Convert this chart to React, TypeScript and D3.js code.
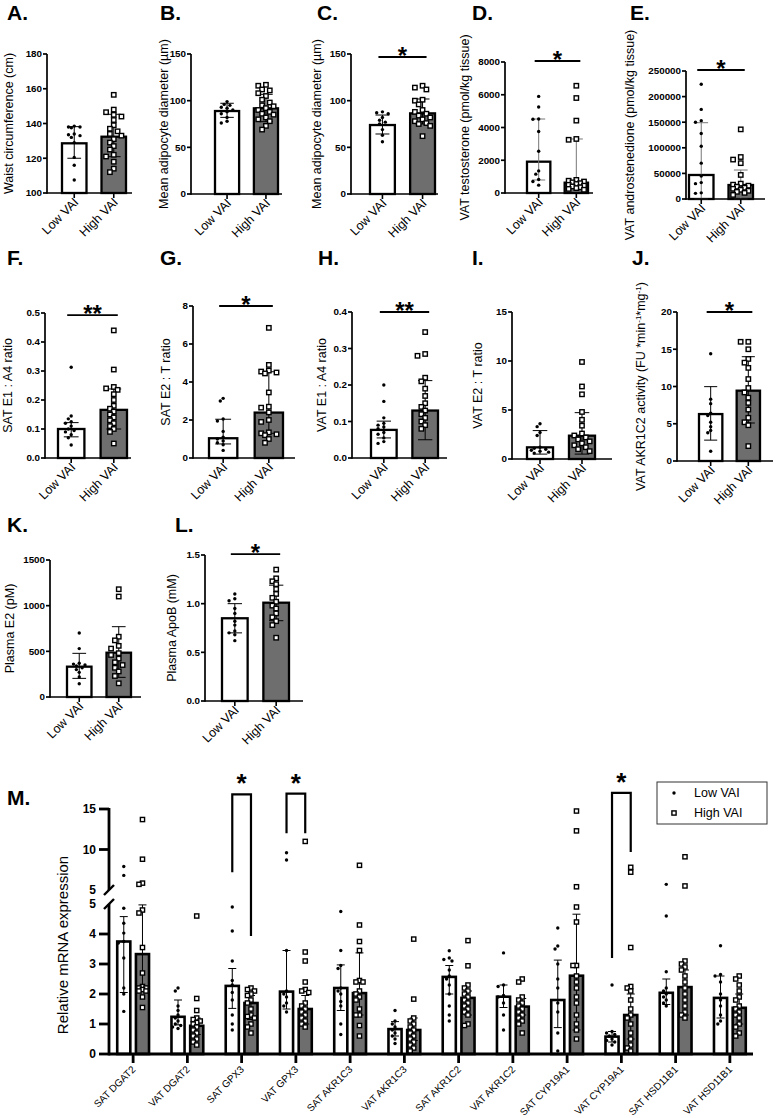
import React from 'react';
import * as d3 from 'd3';

const FONT = '"Liberation Sans", Arial, sans-serif';
const DARK = '#6e6e6e';
const GROUPS = ['Low VAI', 'High VAI'];

// A. waist circumference (cm)
const waistLow = [138.5, 138, 138, 137.5, 134, 133.5, 133, 132, 129, 120.5, 116, 107.5];
const waistHigh = [156.5, 148, 146.5, 145, 144, 142, 139, 137, 135.5, 134, 133, 131, 129, 127, 125, 122, 121, 118, 114, 112];
const waistMean = [128.6, 132.4];
const waistErr = [[120.0, 138.2], [120.9, 145.3]];

// B. SAT adipocyte diameter
const satDiamLow = [99, 96, 95, 93, 92, 90, 88, 86, 82, 78, 76];
const satDiamHigh = [117, 116, 112, 111, 108, 105, 101, 98, 95, 94, 92, 90, 88, 86, 85, 82, 80, 78, 73, 69];
const satDiamMean = [88.9, 91.8];
const satDiamErr = [[82.1, 97.2], [77.5, 106.8]];

// C. VAT adipocyte diameter
const vatDiamLow = [88, 87, 86, 82, 79, 77, 75, 69, 63, 56];
const vatDiamHigh = [116, 114, 112, 101, 100, 96, 90, 88, 86, 84, 82, 80, 78, 76, 75, 73, 62];
const vatDiamMean = [73.9, 86.4];
const vatDiamErr = [[64.3, 84.6], [75, 101.8]];

// D. VAT testosterone
const testoLow = [5900, 5250, 4520, 4500, 3760, 2550, 1350, 1150, 820, 700, 480];
const testoHigh = [6550, 5800, 4420, 3300, 3250, 800, 750, 700, 650, 600, 550, 500, 450, 400, 350, 300, 250, 200];
const testoMean = [1913, 630];
const testoErr = [[794, 4519], [300, 3298]];

// E. VAT androstenedione
const andLow = [224000, 175000, 153000, 150000, 128000, 103000, 70000, 45000, 32000, 30000, 12000, 11000];
const andHigh = [136000, 82000, 77000, 70000, 47000, 30000, 28000, 26000, 24000, 22000, 20000, 18000, 16000, 14000, 12000, 8000];
const andMean = [46900, 27300];
const andErr = [[0, 149000], [0, 56600]];

// F. SAT E1:A4
const satE1Low = [0.313, 0.145, 0.135, 0.125, 0.12, 0.11, 0.1, 0.095, 0.09, 0.08, 0.07, 0.045];
const satE1High = [0.44, 0.305, 0.245, 0.24, 0.235, 0.22, 0.2, 0.18, 0.17, 0.16, 0.15, 0.14, 0.13, 0.12, 0.11, 0.1, 0.09, 0.05];
const satE1Mean = [0.1, 0.166];
const satE1Err = [[0.073, 0.122], [0.1, 0.238]];

// G. SAT E2:T
const satE2Low = [3.14, 3.0, 2.05, 1.95, 1.4, 1.1, 1.0, 0.9, 0.8, 0.7, 0.4];
const satE2High = [6.85, 4.9, 4.6, 4.55, 4.5, 4.45, 3.45, 2.7, 2.65, 2.4, 2.0, 1.9, 1.35, 1.3, 1.25, 1.2, 1.0, 0.8];
const satE2Mean = [1.04, 2.39];
const satE2Err = [[0.74, 2.04], [1.3, 4.54]];

// H. VAT E1:A4
const vatE1Low = [0.2, 0.155, 0.11, 0.095, 0.09, 0.085, 0.08, 0.07, 0.065, 0.055, 0.045, 0.04];
const vatE1High = [0.345, 0.285, 0.28, 0.22, 0.21, 0.19, 0.17, 0.15, 0.14, 0.13, 0.12, 0.11, 0.1, 0.09, 0.08];
const vatE1Mean = [0.077, 0.13];
const vatE1Err = [[0.055, 0.101], [0.05, 0.212]];

// I. VAT E2:T
const vatE2Low = [3.6, 3.3, 2.7, 2.4, 1.2, 1.1, 1.0, 0.9, 0.8, 0.7, 0.6];
const vatE2High = [9.9, 7.4, 6.6, 4.8, 4.0, 3.4, 2.6, 2.4, 2.2, 2.0, 1.8, 1.6, 1.4, 1.2, 1.0, 0.8];
const vatE2Mean = [1.19, 2.38];
const vatE2Err = [[0.5, 2.9], [0.5, 4.73]];

// J. VAT AKR1C2 activity
const akrLow = [14.4, 8.3, 7.7, 6.4, 6.1, 5.2, 4.6, 4.1, 3.8, 1.3];
const akrHigh = [16, 16, 15, 13.7, 13.2, 12.5, 11, 9.8, 9.2, 8.5, 7.8, 6.9, 5.8, 5.2, 4.8, 2.0];
const akrMean = [6.3, 9.44];
const akrErr = [[2.8, 9.98], [5.1, 14.0]];

// K. plasma E2
const e2Low = [700, 530, 370, 360, 350, 340, 320, 300, 270, 220, 145];
const e2High = [1180, 1100, 660, 620, 560, 530, 480, 460, 420, 380, 350, 320, 280, 230, 150];
const e2Mean = [332, 485];
const e2Err = [[204, 478], [215, 770]];

// L. plasma ApoB
const apoLow = [1.1, 1.05, 1.03, 0.95, 0.9, 0.82, 0.78, 0.72, 0.7, 0.68, 0.62];
const apoHigh = [1.35, 1.26, 1.23, 1.2, 1.15, 1.1, 1.06, 1.02, 0.98, 0.95, 0.9, 0.86, 0.82, 0.78, 0.65];
const apoMean = [0.85, 1.01];
const apoErr = [[0.7, 1.0], [0.825, 1.19]];

// M. relative mRNA expression
const mrnaGenes = ['SAT DGAT2', 'VAT DGAT2', 'SAT GPX3', 'VAT GPX3', 'SAT AKR1C3', 'VAT AKR1C3',
  'SAT AKR1C2', 'VAT AKR1C2', 'SAT CYP19A1', 'VAT CYP19A1', 'SAT HSD11B1', 'VAT HSD11B1'];
const mrnaLowMean = [3.75, 1.24, 2.27, 2.08, 2.2, 0.83, 2.57, 1.91, 1.8, 0.58, 2.04, 1.87];
const mrnaHighMean = [3.33, 0.94, 1.7, 1.5, 2.03, 0.8, 1.87, 1.58, 2.61, 1.3, 2.23, 1.54];
const mrnaLowErr = [[2.05, 4.58], [0.97, 1.8], [1.52, 2.85], [1.5, 3.45], [1.45, 2.97], [0.6, 1.08],
  [2.0, 2.95], [1.55, 2.3], [0.88, 3.13], [0.4, 0.75], [1.65, 2.5], [1.2, 2.6]];
const mrnaHighErr = [[2.1, 4.97], [0.65, 1.2], [1.15, 1.95], [1.0, 1.95], [1.3, 3.37], [0.45, 1.2],
  [1.3, 2.1], [1.3, 1.85], [0.8, 4.66], [0.5, 2.0], [1.3, 2.8], [1.0, 2.0]];
const mrnaLow = [
  [7.9, 6.8, 4.86, 4.36, 4.03, 3.75, 3.7, 3.2, 2.2, 2.0, 1.42],
  [2.2, 2.1, 1.6, 1.45, 1.3, 1.2, 1.1, 1.0, 0.95, 0.9, 0.85],
  [4.9, 4.1, 3.1, 2.45, 2.3, 2.05, 1.8, 1.3, 1.0, 0.8],
  [9.6, 8.7, 3.45, 2.1, 2.0, 1.9, 1.7, 1.6, 1.4],
  [4.75, 3.45, 2.95, 2.85, 2.2, 2.1, 2.0, 1.75, 1.6, 1.0, 0.65],
  [1.45, 1.1, 1.0, 0.9, 0.8, 0.7, 0.6, 0.5, 0.35],
  [3.44, 3.2, 3.15, 3.1, 2.8, 2.6, 2.5, 2.3, 2.0, 1.6, 1.3, 1.1],
  [3.37, 2.3, 2.25, 1.95, 1.9, 1.7, 1.3, 0.8],
  [4.2, 3.6, 3.5, 3.0, 2.5, 2.2, 1.7, 1.4, 0.7, 0.1],
  [2.3, 0.75, 0.7, 0.65, 0.6, 0.5, 0.45, 0.4, 0.3],
  [5.7, 4.6, 2.74, 2.2, 2.1, 2.0, 1.9, 1.8, 1.7, 1.6],
  [3.61, 2.65, 2.6, 2.4, 2.0, 1.8, 1.6, 1.3, 1.1, 1.0],
];
const mrnaHigh = [
  [13.7, 8.8, 5.85, 5.7, 4.8, 4.7, 3.55, 2.7, 2.25, 2.2, 2.2, 2.15, 2.1, 2.1, 1.9, 1.55],
  [4.6, 1.85, 1.45, 1.2, 1.15, 1.1, 1.05, 1.0, 0.9, 0.8, 0.7, 0.6, 0.5, 0.4, 0.3],
  [2.2, 2.15, 2.1, 2.0, 1.95, 1.8, 1.7, 1.5, 1.3, 1.25, 1.2, 1.0, 0.9, 0.7],
  [11.0, 3.4, 3.1, 2.4, 2.15, 2.1, 2.05, 1.7, 1.6, 1.5, 1.4, 1.3, 1.2, 1.1, 1.0, 0.9],
  [8.05, 4.3, 3.75, 3.45, 2.45, 2.4, 2.4, 2.1, 2.0, 1.9, 1.8, 1.5, 1.3, 1.3, 0.95, 0.6],
  [3.83, 1.83, 1.2, 1.1, 1.0, 0.9, 0.8, 0.7, 0.6, 0.5, 0.4, 0.3, 0.2, 0.1],
  [3.78, 2.94, 2.3, 2.2, 2.1, 2.0, 1.9, 1.8, 1.7, 1.6, 1.5, 1.4, 1.3, 1.0, 0.95],
  [2.5, 2.4, 1.9, 1.8, 1.7, 1.6, 1.5, 1.4, 1.3, 1.2, 1.1, 1.0, 0.7],
  [14.75, 12.3, 5.4, 4.9, 4.4, 2.95, 2.95, 2.6, 2.4, 2.2, 1.9, 1.7, 1.3, 1.0, 0.8, 0.5],
  [7.8, 7.2, 3.55, 2.25, 2.2, 2.1, 1.8, 1.5, 1.3, 1.2, 1.0, 0.7, 0.5, 0.3, 0.2, 0.1],
  [9.1, 5.5, 3.1, 3.0, 2.9, 2.8, 2.6, 2.4, 2.2, 2.0, 1.8, 1.6, 1.4, 1.3, 1.2],
  [2.6, 2.5, 2.3, 2.1, 1.9, 1.8, 1.6, 1.5, 1.4, 1.3, 1.2, 1.0, 0.9, 0.7, 0.6],
];
// brackets: bracket top, end of left leg, end of right leg (in data units)
const mrnaSig = [
  { gene: 'SAT GPX3', top: 16.8, left: 7.2, right: 3.93 },
  { gene: 'VAT GPX3', top: 16.9, left: 12.0, right: 12.0 },
  { gene: 'VAT CYP19A1', top: 17.0, left: 3.2, right: 9.7 },
];

const fmtInt = d3.format('d');
const fmt1 = d3.format('.1f');

type Panel = {
  letter: string; lx: number; ly: number;
  x0: number; xEnd: number; yTop: number; yBot: number; bars: [number, number];
  domain: [number, number]; ticks: number[]; fmt: (v: number) => string;
  title: React.ReactNode; titleX: number;
  low: number[]; high: number[]; mean: number[]; err: number[][];
  sig?: { v: number; text: string }; errColor?: string;
};

const panels: Panel[] = [
  { letter: 'A.', lx: 7, ly: 20, x0: 47, xEnd: 132, yTop: 54, yBot: 193, bars: [62, 126], domain: [100, 180], ticks: [100, 120, 140, 160, 180], fmt: fmtInt,
    title: 'Waist circumference (cm)', titleX: 9, low: waistLow, high: waistHigh, mean: waistMean, err: waistErr },
  { letter: 'B.', lx: 160, ly: 20, x0: 191, xEnd: 282, yTop: 54, yBot: 194, bars: [215, 278], domain: [0, 150], ticks: [0, 50, 100, 150], fmt: fmtInt,
    title: 'Mean adipocyte diameter (µm)', titleX: 164, low: satDiamLow, high: satDiamHigh, mean: satDiamMean, err: satDiamErr },
  { letter: 'C.', lx: 317, ly: 20, x0: 351, xEnd: 438, yTop: 54, yBot: 194, bars: [370, 435], domain: [0, 150], ticks: [0, 50, 100, 150], fmt: fmtInt,
    title: 'Mean adipocyte diameter (µm)', titleX: 317, low: vatDiamLow, high: vatDiamHigh, mean: vatDiamMean, err: vatDiamErr, sig: { v: 146.8, text: '*' } },
  { letter: 'D.', lx: 472, ly: 20, x0: 505, xEnd: 593, yTop: 62, yBot: 193, bars: [527, 588], domain: [0, 8000], ticks: [0, 2000, 4000, 6000, 8000], fmt: fmtInt,
    title: 'VAT testosterone (pmol/kg tissue)', titleX: 465, low: testoLow, high: testoHigh, mean: testoMean, err: testoErr, sig: { v: 8060, text: '*' }, errColor: '#777' },
  { letter: 'E.', lx: 630, ly: 20, x0: 686, xEnd: 765, yTop: 71, yBot: 199, bars: [689, 753], domain: [0, 250000], ticks: [0, 50000, 100000, 150000, 200000, 250000], fmt: fmtInt,
    title: 'VAT androstenedione (pmol/kg tissue)', titleX: 630, low: andLow, high: andHigh, mean: andMean, err: andErr, sig: { v: 252000, text: '*' }, errColor: '#777' },
  { letter: 'F.', lx: 7, ly: 265, x0: 45, xEnd: 131, yTop: 313, yBot: 458, bars: [58, 127], domain: [0, 0.5], ticks: [0, 0.1, 0.2, 0.3, 0.4, 0.5], fmt: fmt1,
    title: 'SAT E1 : A4 ratio', titleX: 8, low: satE1Low, high: satE1High, mean: satE1Mean, err: satE1Err, sig: { v: 0.493, text: '**' } },
  { letter: 'G.', lx: 160, ly: 265, x0: 193, xEnd: 295, yTop: 306, yBot: 458, bars: [209, 283], domain: [0, 8], ticks: [0, 2, 4, 6, 8], fmt: fmtInt,
    title: 'SAT E2 : T ratio', titleX: 166, low: satE2Low, high: satE2High, mean: satE2Mean, err: satE2Err, sig: { v: 8, text: '*' } },
  { letter: 'H.', lx: 318, ly: 265, x0: 352, xEnd: 447, yTop: 312, yBot: 458, bars: [371, 438], domain: [0, 0.4], ticks: [0, 0.1, 0.2, 0.3, 0.4], fmt: fmt1,
    title: 'VAT E1 : A4 ratio', titleX: 322, low: vatE1Low, high: vatE1High, mean: vatE1Mean, err: vatE1Err, sig: { v: 0.4, text: '**' } },
  { letter: 'I.', lx: 472, ly: 265, x0: 512, xEnd: 612, yTop: 312, yBot: 459, bars: [527, 595], domain: [0, 15], ticks: [0, 5, 10, 15], fmt: fmtInt,
    title: 'VAT E2 : T ratio', titleX: 478, low: vatE2Low, high: vatE2High, mean: vatE2Mean, err: vatE2Err },
  { letter: 'J.', lx: 632, ly: 265, x0: 677, xEnd: 773, yTop: 312, yBot: 461, bars: [699, 760], domain: [0, 20], ticks: [0, 5, 10, 15, 20], fmt: fmtInt,
    title: <>VAT AKR1C2 activity (FU *min<tspan baselineShift="super" fontSize={8}>-1</tspan>*mg<tspan baselineShift="super" fontSize={8}>-1</tspan>)</>,
    titleX: 641, low: akrLow, high: akrHigh, mean: akrMean, err: akrErr, sig: { v: 20, text: '*' } },
  { letter: 'K.', lx: 7, ly: 532, x0: 50, xEnd: 141, yTop: 560, yBot: 697, bars: [67, 131], domain: [0, 1500], ticks: [0, 500, 1000, 1500], fmt: fmtInt,
    title: 'Plasma E2 (pM)', titleX: 10, low: e2Low, high: e2High, mean: e2Mean, err: e2Err },
  { letter: 'L.', lx: 175, ly: 532, x0: 205, xEnd: 303, yTop: 555, yBot: 701, bars: [222, 289], domain: [0, 1.5], ticks: [0, 0.5, 1, 1.5], fmt: fmt1,
    title: 'Plasma ApoB (mM)', titleX: 172, low: apoLow, high: apoHigh, mean: apoMean, err: apoErr, sig: { v: 1.51, text: '*' } },
];

// spread points sideways so they don't sit on top of each other
function swarm(vals: number[], yf: (v: number) => number, half: number, gap: number) {
  const order = d3.range(vals.length).sort((a, b) => vals[b] - vals[a]);
  const placed: [number, number][] = [];
  const xs = new Array<number>(vals.length).fill(0);
  const cands = [0];
  for (let k = 1; k * gap * 0.8 <= half; k++) cands.push(-k * gap * 0.8, k * gap * 0.8);
  order.forEach((i) => {
    const py = yf(vals[i]);
    let best = 0, bestD = -1;
    for (const c of cands) {
      const d = placed.length ? d3.min(placed, (p) => Math.hypot(p[0] - c, p[1] - py))! : Infinity;
      if (d >= gap) { best = c; break; }
      if (d > bestD) { bestD = d; best = c; }
    }
    xs[i] = best;
    placed.push([best, py]);
  });
  return xs;
}

const Dot = ({ x, y }: { x: number; y: number }) => <circle cx={x} cy={y} r={1.7} fill="#000" />;
const Sq = ({ x, y, s = 4.4 }: { x: number; y: number; s?: number }) => (
  <rect x={x - s / 2} y={y - s / 2} width={s} height={s} fill="#fff" stroke="#000" strokeWidth={1.4} />
);

function SmallPanel({ p }: { p: Panel }) {
  const y = d3.scaleLinear().domain(p.domain).range([p.yBot, p.yTop]);
  const x = d3.scaleBand<string>().domain(GROUPS).range(p.bars).paddingInner(0.38);
  const bw = x.bandwidth();
  const base = p.yBot;
  const cx = (g: string) => x(g)! + bw / 2;
  const cap = bw * 0.28;
  return (
    <g>
      <text x={p.lx} y={p.ly} fontSize={21} fontWeight="bold">{p.letter}</text>
      <text transform={`translate(${p.titleX},${(p.yTop + p.yBot) / 2}) rotate(-90)`} textAnchor="middle" dy="0.35em" fontSize={12.5}>{p.title}</text>
      {GROUPS.map((g, i) => {
        const m = p.mean[i];
        const [lo, hi] = p.err[i];
        const pts = i === 0 ? p.low : p.high;
        const offs = swarm(pts, y, bw / 2 - 3, i === 0 ? 3.6 : 4.8);
        const ec = p.errColor || '#000';
        return (
          <g key={g}>
            <rect x={x(g)} y={y(m)} width={bw} height={base - y(m)} fill={i ? DARK : '#fff'} stroke="#000" strokeWidth={2.3} />
            <line x1={cx(g)} x2={cx(g)} y1={y(lo)} y2={y(hi)} stroke={ec} strokeWidth={1} />
            <line x1={cx(g) - cap} x2={cx(g) + cap} y1={y(lo)} y2={y(lo)} stroke={ec} strokeWidth={1} />
            <line x1={cx(g) - cap} x2={cx(g) + cap} y1={y(hi)} y2={y(hi)} stroke={ec} strokeWidth={1} />
            {pts.map((v, k) => i === 0
              ? <Dot key={k} x={cx(g) + offs[k]} y={y(v)} />
              : <Sq key={k} x={cx(g) + offs[k]} y={y(v)} />)}
            <line x1={cx(g)} x2={cx(g)} y1={base} y2={base + 5} stroke="#000" strokeWidth={1.6} />
            <text transform={`translate(${cx(g) + 5},${base + 10}) rotate(-45)`} textAnchor="end" fontSize={12.5}>{g}</text>
          </g>
        );
      })}
      <line x1={p.x0} x2={p.x0} y1={base + 0.8} y2={p.yTop} stroke="#000" strokeWidth={1.7} />
      <line x1={p.x0} x2={p.xEnd} y1={base} y2={base} stroke="#000" strokeWidth={1.7} />
      {p.ticks.map((t) => (
        <g key={t}>
          <line x1={p.x0 - 4} x2={p.x0} y1={y(t)} y2={y(t)} stroke="#000" strokeWidth={1.7} />
          <text x={p.x0 - 5} y={y(t)} dy="0.35em" textAnchor="end" fontSize={9.8} fontWeight="bold">{p.fmt(t)}</text>
        </g>
      ))}
      {p.sig && (
        <g>
          <line x1={cx(GROUPS[0]) - 4} x2={cx(GROUPS[1]) + 4} y1={y(p.sig.v)} y2={y(p.sig.v)} stroke="#000" strokeWidth={1.8} />
          <text x={(cx(GROUPS[0]) + cx(GROUPS[1])) / 2} y={y(p.sig.v) + 7} textAnchor="middle" fontSize={24} fontWeight="bold">{p.sig.text}</text>
        </g>
      )}
    </g>
  );
}

function MrnaPanel() {
  const x = d3.scaleBand<string>().domain(mrnaGenes).range([106, 757]);
  const inner = d3.scaleBand<string>().domain(GROUPS).range([0, x.bandwidth()]).paddingInner(0.3).paddingOuter(0.6);
  const bw = inner.bandwidth();
  const yLo = d3.scaleLinear().domain([0, 5]).range([1054, 904]);
  const yHi = d3.scaleLinear().domain([5, 15]).range([890, 809]);
  const yv = (v: number) => (v <= 5 ? yLo(v) : yHi(v));
  const axX = 109;
  const base = yLo(0);
  const bc = (gene: string, g: string) => x(gene)! + inner(g)! + bw / 2;
  const cap = 4;
  return (
    <g>
      <text x={7} y={805} fontSize={21} fontWeight="bold">M.</text>
      <text transform={`translate(63,945) rotate(-90)`} textAnchor="middle" dy="0.35em" fontSize={15}>Relative mRNA expression</text>
      {mrnaGenes.map((gene, gi) => (
        <g key={gene}>
          {GROUPS.map((g, i) => {
            const m = i ? mrnaHighMean[gi] : mrnaLowMean[gi];
            const [lo, hi] = i ? mrnaHighErr[gi] : mrnaLowErr[gi];
            const pts = i ? mrnaHigh[gi] : mrnaLow[gi];
            const c = bc(gene, g);
            const offs = swarm(pts, yv, bw / 2 - 1, i === 0 ? 3.4 : 4.4);
            return (
              <g key={g}>
                <rect x={c - bw / 2} y={yv(m)} width={bw} height={base - yv(m)} fill={i ? DARK : '#fff'} stroke="#000" strokeWidth={2.6} />
                <line x1={c} x2={c} y1={yv(lo)} y2={yv(hi)} stroke="#000" strokeWidth={1} />
                <line x1={c - cap} x2={c + cap} y1={yv(lo)} y2={yv(lo)} stroke="#000" strokeWidth={1} />
                <line x1={c - cap} x2={c + cap} y1={yv(hi)} y2={yv(hi)} stroke="#000" strokeWidth={1} />
                {pts.map((v, k) => i === 0
                  ? <Dot key={k} x={c + offs[k]} y={yv(v)} />
                  : <Sq key={k} x={c + offs[k]} y={yv(v)} s={4.2} />)}
              </g>
            );
          })}
          <line x1={x(gene)! + x.bandwidth() / 2} x2={x(gene)! + x.bandwidth() / 2} y1={base} y2={base + 9} stroke="#000" strokeWidth={2.8} />
          <text transform={`translate(${x(gene)! + x.bandwidth() / 2 + 3},${base + 16}) rotate(-45)`} textAnchor="end" fontSize={10} fill="#000">{gene}</text>
        </g>
      ))}
      {/* axes with break */}
      <line x1={axX} x2={axX} y1={yHi(15) - 1} y2={yHi(5)} stroke="#000" strokeWidth={2.8} />
      <line x1={axX} x2={axX} y1={yLo(5)} y2={base + 1.4} stroke="#000" strokeWidth={2.8} />
      <line x1={axX - 5} x2={axX + 5} y1={yHi(5) + 5} y2={yHi(5) - 5} stroke="#000" strokeWidth={2.4} />
      <line x1={axX - 5} x2={axX + 5} y1={yLo(5) + 5} y2={yLo(5) - 5} stroke="#000" strokeWidth={2.4} />
      <line x1={axX} x2={753} y1={base} y2={base} stroke="#000" strokeWidth={2.8} />
      {[10, 15].map((t) => (
        <line key={t} x1={axX - 10} x2={axX} y1={yHi(t)} y2={yHi(t)} stroke="#000" strokeWidth={2.8} />
      ))}
      {[0, 1, 2, 3, 4].map((t) => (
        <line key={t} x1={axX - 10} x2={axX} y1={yLo(t)} y2={yLo(t)} stroke="#000" strokeWidth={2.8} />
      ))}
      {[5, 10, 15].map((t) => (
        <text key={'u' + t} x={axX - 13} y={yHi(t)} dy="0.35em" textAnchor="end" fontSize={12} fontWeight="bold">{t}</text>
      ))}
      {[0, 1, 2, 3, 4, 5].map((t) => (
        <text key={'l' + t} x={axX - 13} y={yLo(t)} dy="0.35em" textAnchor="end" fontSize={12} fontWeight="bold">{t}</text>
      ))}
      {/* significance brackets */}
      {mrnaSig.map((s) => {
        const l = bc(s.gene, GROUPS[0]);
        const r = bc(s.gene, GROUPS[1]);
        const top = yv(s.top);
        return (
          <g key={s.gene}>
            <path d={`M${l},${yv(s.left)}V${top}H${r}V${yv(s.right)}`} fill="none" stroke="#000" strokeWidth={2.2} />
            <text x={(l + r) / 2} y={top - 2} textAnchor="middle" fontSize={26} fontWeight="bold">*</text>
          </g>
        );
      })}
      {/* legend */}
      <g transform="translate(657,782)">
        <rect width={110} height={42} fill="#fff" stroke="#333" strokeWidth={1} />
        <Dot x={17} y={11} />
        <Sq x={17} y={31} s={4.2} />
        <text x={37} y={11} dy="0.35em" fontSize={12.5}>Low VAI</text>
        <text x={37} y={31} dy="0.35em" fontSize={12.5}>High VAI</text>
      </g>
    </g>
  );
}

export default function App() {
  return (
    <svg width={777} height={1118} style={{ position: 'absolute', left: 0, top: 0 }} fontFamily={FONT}>
      <rect width={777} height={1118} fill="#fff" />
      {panels.map((p) => <SmallPanel key={p.letter} p={p} />)}
      <MrnaPanel />
    </svg>
  );
}
